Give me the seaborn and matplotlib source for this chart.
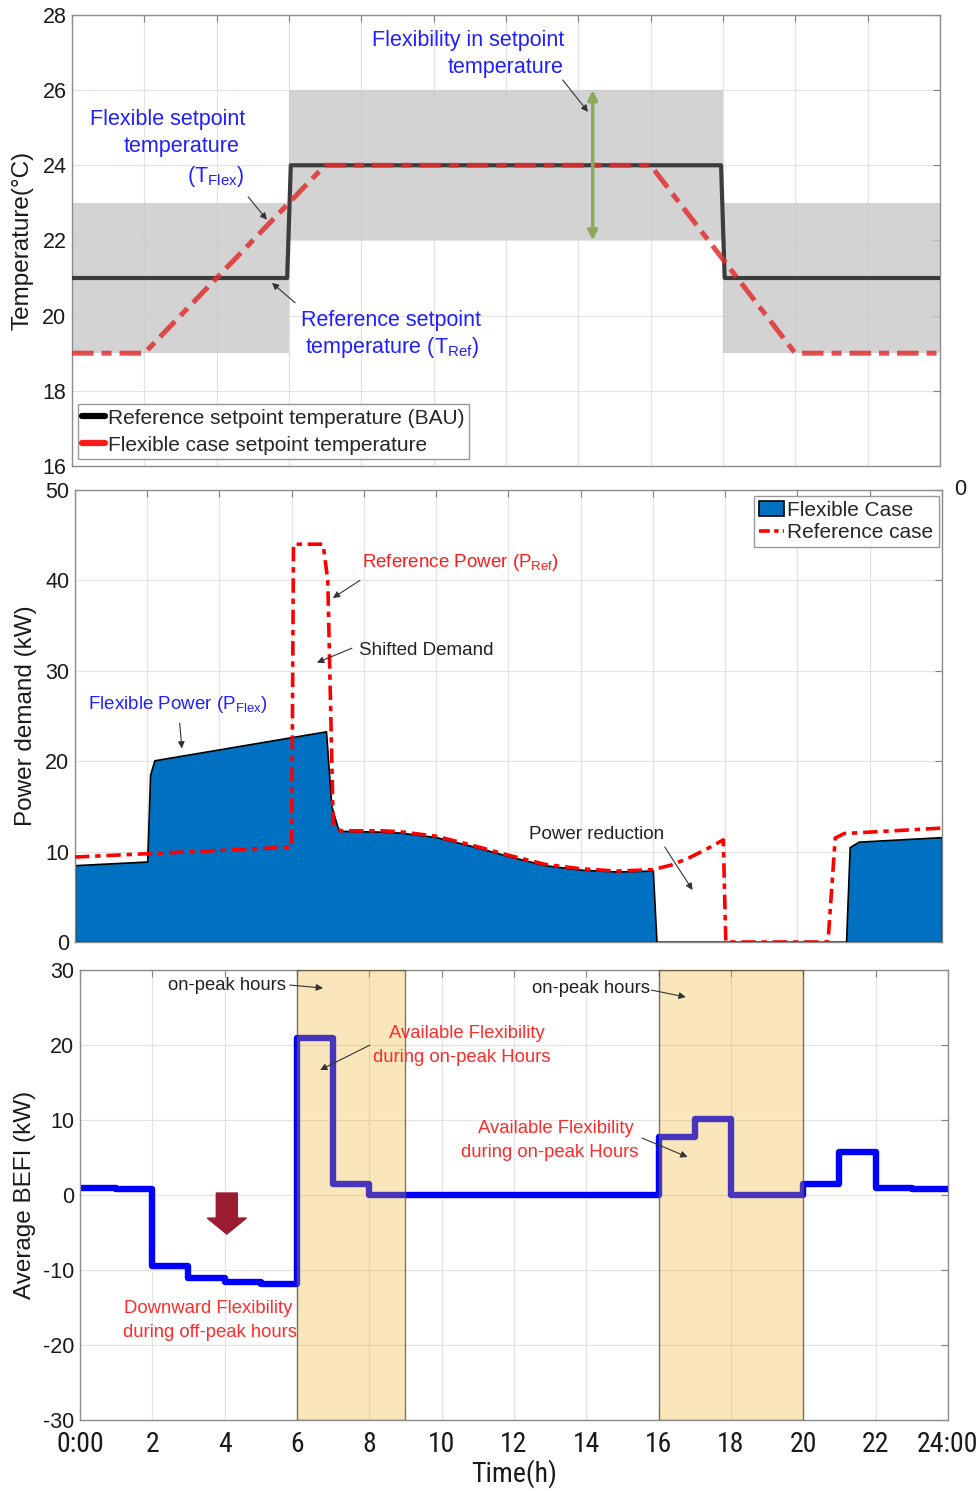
import numpy as np
import pandas as pd
import matplotlib
matplotlib.use('Agg')
import matplotlib.pyplot as plt
import seaborn as sns
from matplotlib.lines import Line2D
from matplotlib.patches import Patch
from matplotlib import font_manager

# ------------------------------------------------------------------ data
hour_ticks = list(range(0, 25, 2))
bottom_xticklabels = ['0:00', '2', '4', '6', '8', '10', '12', '14', '16', '18', '20', '22', '24:00']

# Panel 1: setpoint temperatures
ref_sp_t = [0, 5.95, 6.05, 17.95, 18.05, 24]
ref_sp_T = [21, 21, 24, 24, 21, 21]
flex_sp_t = [0, 2, 7, 16, 20, 24]
flex_sp_T = [19, 19, 24, 24, 19, 19]
band_start = [0, 6, 18]
band_end = [6, 18, 24]
band_low = [19, 22, 19]
band_high = [23, 26, 23]

# Panel 2: power demand
flex_p_t = [0, 2.0, 2.08, 2.2, 6.95, 7.1, 7.3, 8.5, 9.0, 10.0, 11.0, 12.0, 13.0, 14.0, 15.0, 16.0, 16.1,
            21.35, 21.45, 21.7, 24]
flex_p = [8.5, 8.9, 18.5, 20.1, 23.3, 15.0, 12.3, 12.2, 12.1, 11.6, 10.6, 9.5, 8.5, 8.0, 7.8, 7.9, 0,
          0, 10.5, 11.1, 11.6]
ref_p_t = [0, 6.0, 6.05, 6.87, 7.0, 7.15, 7.35, 8.5, 9.0, 10.0, 11.0, 12.0, 13.0, 14.0, 15.0, 16.0,
           16.5, 17.0, 17.5, 17.95, 18.02, 20.85, 21.05, 21.3, 24]
ref_p = [9.4, 10.5, 44.0, 44.0, 40.0, 13.0, 12.3, 12.3, 12.2, 11.7, 10.7, 9.6, 8.6, 8.1, 7.85, 8.0,
         8.5, 9.3, 10.3, 11.3, 0, 0, 11.5, 12.0, 12.6]

# Panel 3: average BEFI (hourly steps)
befi_t = list(range(0, 25))
befi = [1.0, 0.8, -9.5, -11.0, -11.6, -11.9, 21.0, 1.5, 0, 0, 0, 0, 0, 0, 0, 0,
        7.7, 10.1, 0, 0, 1.5, 5.8, 0.9, 0.8, 0.8]
peak_start = [6, 16]
peak_end = [9, 20]

# ------------------------------------------------------------------ style
sns.set_theme(style='whitegrid')
plt.rcParams['font.family'] = ['Liberation Sans', 'DejaVu Sans']
plt.rcParams['mathtext.fontset'] = 'custom'
plt.rcParams['mathtext.rm'] = 'Liberation Sans'
plt.rcParams['mathtext.it'] = 'Liberation Sans:italic'
plt.rcParams['mathtext.bf'] = 'Liberation Sans:bold'
plt.rcParams['axes.unicode_minus'] = False

installed = {f.name for f in font_manager.fontManager.ttflist}
narrow = next((n for n in ['Liberation Sans Narrow', 'Arial Narrow', 'Roboto Condensed',
                           'DejaVu Sans Condensed', 'Open Sans Condensed'] if n in installed), None)
if narrow is not None:
    narrow_family, tick_size, xlab_size = [narrow, 'Liberation Sans'], 20, 20
else:
    narrow_family, tick_size, xlab_size = ['Liberation Sans'], 17.5, 18.5

fig = plt.figure(figsize=(9.8, 14.91), dpi=100)
ax1 = fig.add_axes([0.0735, 0.6875, 0.8855, 0.3025])
ax2 = fig.add_axes([0.0765, 0.3682, 0.8845, 0.3032])
ax3 = fig.add_axes([0.0816, 0.0476, 0.8857, 0.3018])


def style_ax(ax, ylim, yticks):
    ax.set_xlim(0, 24)
    ax.set_xticks(hour_ticks)
    ax.set_ylim(*ylim)
    ax.set_yticks(yticks)
    ax.set_axisbelow(True)
    ax.grid(True, color='#e4e4e4', lw=0.9)
    ax.tick_params(direction='in', top=True, right=True, length=5, width=0.8,
                   color='#808080', labelsize=15.5, labelcolor='#1a1a1a', pad=4)
    for s in ax.spines.values():
        s.set_visible(True)
        s.set_color('#8c8c8c')
        s.set_linewidth(1.0)


arrow_kw = dict(arrowstyle='-|>', color='#333333', lw=0.8, mutation_scale=10, shrinkA=0, shrinkB=0)

# ------------------------------------------------------------------ panel 1
style_ax(ax1, (16, 28), list(range(16, 29, 2)))
for s, e, lo, hi in zip(band_start, band_end, band_low, band_high):
    ax1.fill_between([s, e], [lo, lo], [hi, hi], color='#c8c8c8', alpha=0.8, lw=0, zorder=0.6)
sns.lineplot(x=ref_sp_t, y=ref_sp_T, ax=ax1, color='#3c3c3c', lw=3.0, sort=False, estimator=None, zorder=3)
sns.lineplot(x=flex_sp_t, y=flex_sp_T, ax=ax1, color='#e03030', alpha=0.85, lw=3.6, sort=False,
             estimator=None, linestyle=(0, (4.3, 1.6, 2.0, 1.6)), zorder=4)
ax1.set_xticklabels([])
ax1.set_xlabel('')
ax1.set_ylabel('Temperature(°C)', fontsize=17.5, color='#1a1a1a')
ax1.yaxis.set_label_coords(-0.044, 0.5)
leg1 = ax1.legend(handles=[Line2D([], [], color='black', lw=4.5), Line2D([], [], color='#ff1a1a', lw=4.5)],
                  labels=['Reference setpoint temperature (BAU)', 'Flexible case setpoint temperature'],
                  loc='lower left', bbox_to_anchor=(0.007, 0.016), fontsize=15, handlelength=1.1,
                  handletextpad=0.15, borderpad=0.2, labelspacing=0.38, borderaxespad=0,
                  frameon=True, fancybox=False, edgecolor='#999999', framealpha=1)
leg1.get_frame().set_linewidth(1.0)

blue_txt = dict(color='#1f1fff', fontsize=15.5)
ax1.text(2.65, 25.23, 'Flexible setpoint', ha='center', va='center', **blue_txt)
ax1.text(3.04, 24.49, 'temperature', ha='center', va='center', **blue_txt)
ax1.text(3.98, 23.69, r'(T$_{\mathrm{Flex}}$)', ha='center', va='center', **blue_txt)
ax1.annotate('', xy=(5.39, 22.55), xytext=(4.87, 23.16), arrowprops=arrow_kw)
ax1.text(8.82, 19.88, 'Reference setpoint', ha='center', va='center', **blue_txt)
ax1.text(8.85, 19.14, r'temperature (T$_{\mathrm{Ref}}$)', ha='center', va='center', **blue_txt)
ax1.annotate('', xy=(5.53, 20.87), xytext=(6.17, 20.34), arrowprops=arrow_kw)
ax1.text(13.6, 27.31, 'Flexibility in setpoint', ha='right', va='center', **blue_txt)
ax1.text(13.6, 26.59, 'temperature', ha='right', va='center', **blue_txt)
ax1.annotate('', xy=(14.27, 25.42), xytext=(13.57, 26.27), arrowprops=arrow_kw)
ax1.annotate('', xy=(14.4, 22.0), xytext=(14.4, 26.0),
             arrowprops=dict(arrowstyle='<|-|>', color='#8aab5c', lw=2.5, mutation_scale=14,
                             shrinkA=0, shrinkB=0), zorder=5)

# ------------------------------------------------------------------ panel 2
style_ax(ax2, (0, 50), list(range(0, 51, 10)))
ax2.fill_between(flex_p_t, 0, flex_p, facecolor='#0070c0', edgecolor='black', lw=1.2, zorder=2)
sns.lineplot(x=ref_p_t, y=ref_p, ax=ax2, color='#ff0000', lw=2.6, sort=False, estimator=None,
             linestyle=(0, (4.0, 1.6, 1.5, 1.6)), zorder=3)
ax2.set_xticklabels([])
ax2.set_xlabel('')
ax2.set_ylabel('Power demand (kW)', fontsize=17.5, color='#1a1a1a')
ax2.yaxis.set_label_coords(-0.044, 0.5)
leg2 = ax2.legend(handles=[Patch(facecolor='#0070c0', edgecolor='black', lw=1.2),
                           Line2D([], [], color='#ff0000', lw=2.6, linestyle=(0, (3.0, 1.2, 1.2, 1.2)))],
                  labels=['Flexible Case', 'Reference case'], loc='upper right',
                  bbox_to_anchor=(0.9965, 0.987), fontsize=15, handlelength=1.2, handletextpad=0.15,
                  borderpad=0.25, labelspacing=0.15, borderaxespad=0,
                  frameon=True, fancybox=False, edgecolor='#999999', framealpha=1)
leg2.get_frame().set_linewidth(1.0)

ax2.text(7.94, 42.0, r'Reference Power (P$_{\mathrm{Ref}}$)', color='#ff1a1a', fontsize=13.5, ha='left', va='center')
ax2.annotate('', xy=(7.14, 38.05), xytext=(7.89, 40.0), arrowprops=arrow_kw)
ax2.text(7.86, 32.2, 'Shifted Demand', color='#222222', fontsize=13.5, ha='left', va='center')
ax2.annotate('', xy=(6.70, 30.9), xytext=(7.67, 32.5), arrowprops=arrow_kw)
ax2.text(0.36, 26.3, r'Flexible Power (P$_{\mathrm{Flex}}$)', color='#1f1fff', fontsize=13.5, ha='left', va='center')
ax2.annotate('', xy=(2.96, 21.4), xytext=(2.9, 24.2), arrowprops=arrow_kw)
ax2.text(12.57, 11.9, 'Power reduction', color='#222222', fontsize=13.5, ha='left', va='center')
ax2.annotate('', xy=(17.1, 5.75), xytext=(16.33, 10.5), arrowprops=arrow_kw)
fig.text(960 / 980, 1 - 489 / 1491, '0', fontsize=15.5, color='#1a1a1a', ha='center', va='center')

# ------------------------------------------------------------------ panel 3
style_ax(ax3, (-30, 30), list(range(-30, 31, 10)))
sns.lineplot(x=befi_t, y=befi, ax=ax3, color='#0000ff', lw=4.6, drawstyle='steps-post',
             sort=False, estimator=None, zorder=2)
for s, e in zip(peak_start, peak_end):
    ax3.axvspan(s, e, facecolor=(0.929, 0.694, 0.125, 0.3), edgecolor=(0.35, 0.3, 0.2, 0.75),
                lw=1.0, zorder=3)
ax3.set_xticklabels(bottom_xticklabels, family=narrow_family, fontsize=tick_size)
ax3.tick_params(axis='x', pad=8)
ax3.set_xlabel('Time(h)', family=narrow_family, fontsize=xlab_size, color='#1a1a1a', labelpad=1)
ax3.set_ylabel('Average BEFI (kW)', fontsize=17.5, color='#1a1a1a')
ax3.yaxis.set_label_coords(-0.051, 0.5)

ax3.text(2.43, 28.0, 'on-peak hours', color='#222222', fontsize=13.3, ha='left', va='center')
ax3.annotate('', xy=(6.72, 27.6), xytext=(5.8, 28.0), arrowprops=arrow_kw)
ax3.text(12.5, 27.6, 'on-peak hours', color='#222222', fontsize=13.3, ha='left', va='center')
ax3.annotate('', xy=(16.75, 26.4), xytext=(15.8, 27.33), arrowprops=arrow_kw)
red_txt = dict(color='#ff2a2a', fontsize=13.3, ha='center', va='center')
ax3.text(10.7, 21.6, 'Available Flexibility', **red_txt)
ax3.text(10.56, 18.4, 'during on-peak Hours', **red_txt)
ax3.annotate('', xy=(6.64, 16.67), xytext=(8.02, 20.0), arrowprops=arrow_kw)
ax3.text(13.16, 8.93, 'Available Flexibility', **red_txt)
ax3.text(13.0, 5.73, 'during on-peak Hours', **red_txt)
ax3.annotate('', xy=(16.8, 5.07), xytext=(15.54, 7.6), arrowprops=arrow_kw)
ax3.text(3.54, -15.07, 'Downward Flexibility', **red_txt)
ax3.text(3.6, -18.27, 'during off-peak hours', **red_txt)
ax3.arrow(4.06, 0.27, 0, -5.47, width=0.58, head_width=1.08, head_length=2.13,
          length_includes_head=True, color='#9b1b30', zorder=4)

fig.savefig('out.png', dpi=100)
